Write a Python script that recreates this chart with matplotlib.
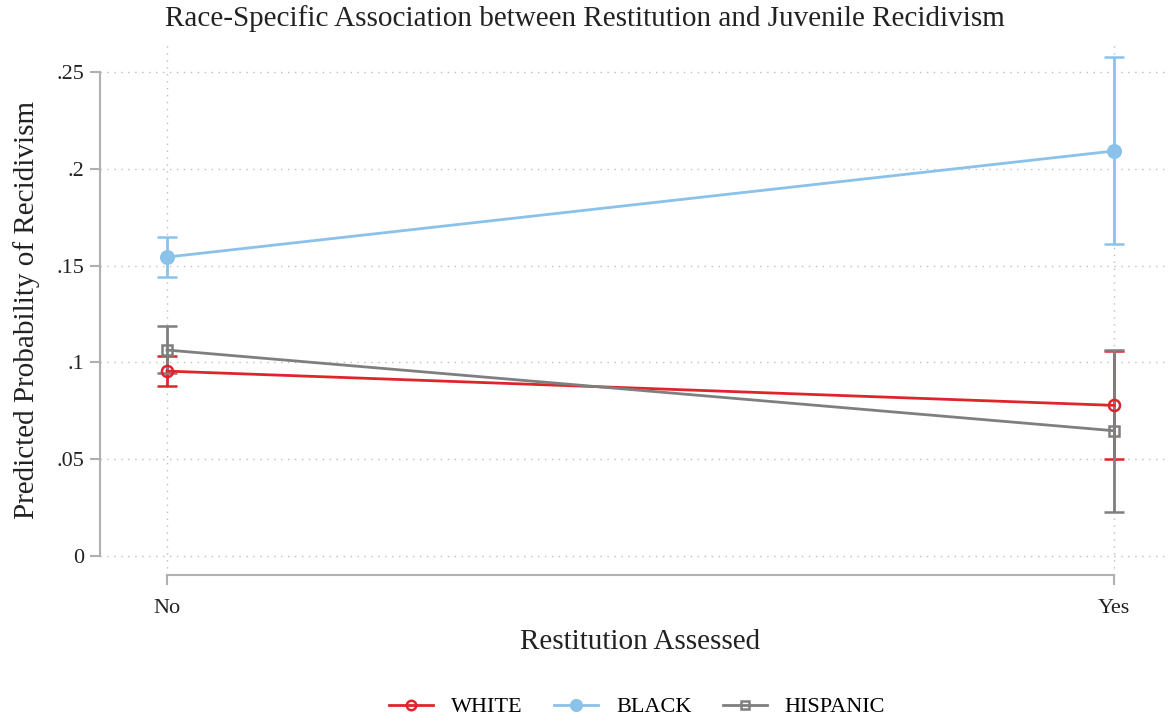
import matplotlib
matplotlib.use("Agg")
import matplotlib.pyplot as plt
from matplotlib.lines import Line2D
import numpy as np

plt.rcParams['font.family'] = ['Liberation Serif', 'DejaVu Serif']

categories = ["No", "Yes"]
white = [0.0955, 0.0778]
white_lo = [0.0878, 0.0501]
white_hi = [0.1035, 0.1059]
black = [0.1544, 0.2092]
black_lo = [0.1439, 0.1612]
black_hi = [0.1646, 0.2579]
hisp = [0.1064, 0.0647]
hisp_lo = [0.0945, 0.0229]
hisp_hi = [0.1188, 0.1062]
yticks = [0, 0.05, 0.1, 0.15, 0.2, 0.25]
ytick_labels = ["0", ".05", ".1", ".15", ".2", ".25"]

W, H = 1172, 725
fig = plt.figure(figsize=(W/100, H/100), dpi=100)
ax = fig.add_axes([100/W, 1-575/H, (1170-100)/W, (575-45)/H])

x = np.arange(len(categories))
px_per_x = 947.0
px_per_y = 484/0.25
ax.set_xlim(-67/px_per_x, 1 + 56/px_per_x)
ax.set_ylim(-19/px_per_y, 0.25 + 27/px_per_y)

red = "#e0242b"
blue = "#8ac2ea"
gray = "#7f7f7f"

handles = []
def series(vals, lo, hi, color, marker, mfc, ms, label):
    v = np.array(vals)
    err = [v - np.array(lo), np.array(hi) - v]
    ax.errorbar(x, v, yerr=err, color=color, lw=2.0, capsize=7, capthick=2.0,
                marker=marker, ms=ms, mfc=mfc, mec=color, mew=1.8,
                elinewidth=2.0, zorder=3)
    handles.append(Line2D([], [], color=color, lw=2.0, marker=marker, ms=ms*0.85,
                          mfc=mfc, mec=color, mew=1.8, label=label))

series(white, white_lo, white_hi, red, 'o', 'none', 8, "WHITE")
series(black, black_lo, black_hi, blue, 'o', blue, 9, "BLACK")
series(hisp, hisp_lo, hisp_hi, gray, 's', 'none', 7.5, "HISPANIC")

ax.set_yticks(yticks)
ax.set_yticklabels(ytick_labels)
ax.set_xticks(x)
ax.set_xticklabels(categories)

for s in ["top", "right"]:
    ax.spines[s].set_visible(False)
ax.spines["left"].set_bounds(0, 0.25)
ax.spines["bottom"].set_bounds(0, 1)
for s in ["left", "bottom"]:
    ax.spines[s].set_color("#b0b0b0")
    ax.spines[s].set_linewidth(1.5)
ax.tick_params(axis='both', colors="#b0b0b0", length=7, width=1.5, labelsize=16,
               labelcolor="#222222")
ax.tick_params(axis='x', pad=10)
ax.tick_params(axis='y', pad=4)

ax.grid(True, which='major', axis='both', linestyle=(0, (1, 4)), color="#bdbdbd", lw=1.0)
ax.set_axisbelow(True)

ax.set_ylabel("Predicted Probability of Recidivism", fontsize=21, color="#222222", labelpad=12)
ax.set_xlabel("Restitution Assessed", fontsize=21, color="#222222", labelpad=12)
ax.xaxis.set_label_coords((640-100)/(1070), -0.10)
ax.xaxis.label.set_va('center')
ax.xaxis.set_label_coords((640-100)/1070, (575-642)/530)
fig.text(585/W, 1-19/H, "Race-Specific Association between Restitution and Juvenile Recidivism",
         ha='center', va='center', fontsize=21, color="#222222")

leg = fig.legend(handles=handles, loc='center', bbox_to_anchor=(637/W, 1-707/H), ncol=3,
                 frameon=False, fontsize=16, handlelength=2.0, columnspacing=1.4,
                 handletextpad=0.8)

fig.savefig("out.png", dpi=100)
